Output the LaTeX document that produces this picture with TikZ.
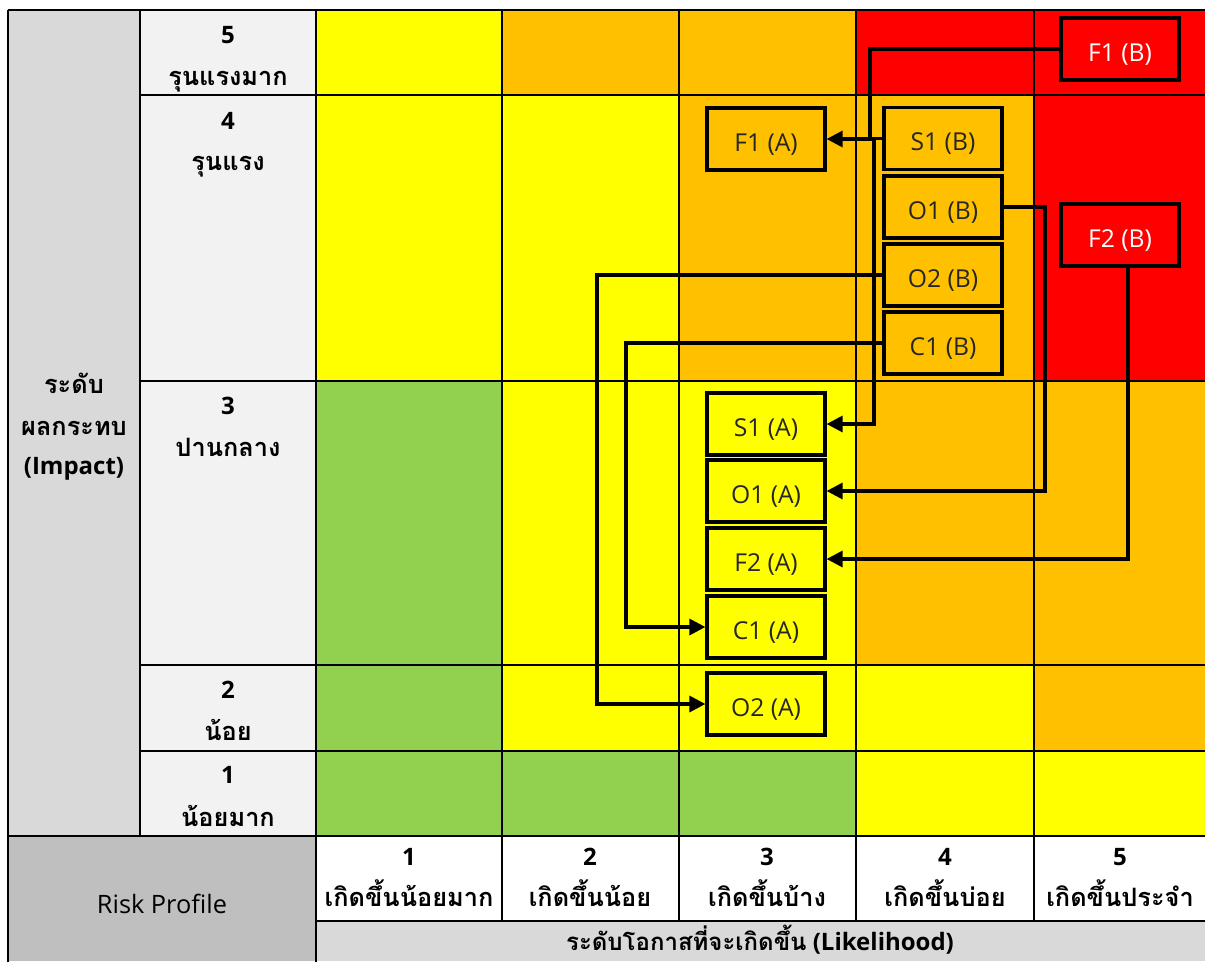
\documentclass[tikz,border=0pt]{standalone}
\usepackage{fontspec}
\setmainfont{Open Sans}
\newfontfamily\thaif[Script=Thai]{Loma}
\usetikzlibrary{arrows.meta}
\definecolor{ryel}{HTML}{FFFF00}
\definecolor{rora}{HTML}{FFC000}
\definecolor{rred}{HTML}{FF0000}
\definecolor{rgrn}{HTML}{92D050}
\definecolor{gA}{HTML}{D9D9D9}
\definecolor{gB}{HTML}{F2F2F2}
\definecolor{gC}{HTML}{BFBFBF}
\begin{document}
\begin{tikzpicture}[x=0.75pt,y=-0.75pt,
  gridl/.style={line width=1.6pt,draw=black},
  lab/.style={font=\fontsize{18}{22}\selectfont\bfseries,anchor=base,inner sep=0pt},
  thlab/.style={font=\fontsize{19}{22}\selectfont\thaif\bfseries,anchor=base,inner sep=0pt},
  plain/.style={font=\fontsize{19}{22}\selectfont,anchor=base,inner sep=0pt},
  riskbox/.style={draw=black,line width=2.4pt,minimum width=88.5pt,minimum height=46.5pt,inner sep=0pt,
    text height=18pt,text depth=0pt,font=\fontsize{18.5}{22}\selectfont,text=black!85},
  redbox/.style={riskbox,fill=rred,text=white},
  conn/.style={line width=2.4pt,draw=black},
  arr/.style={conn,-{Triangle[length=12pt,width=12pt]}}
]
\useasboundingbox (0,0) rectangle (1205,961);
% background cells
\fill[gA] (8,10) rectangle (140,836);
\fill[gB] (140,10) rectangle (316,836);
\fill[gC] (8,836) rectangle (316,961);
\fill[white] (316,836) rectangle (1205,921);
\fill[gA] (316,921) rectangle (1205,961);
\foreach \xa/\xb/\ya/\yb/\c in {
  316/502/10/95/ryel, 502/679/10/95/rora, 679/856/10/95/rora, 856/1034/10/95/rred, 1034/1205/10/95/rred,
  316/502/95/381/ryel, 502/679/95/381/ryel, 679/856/95/381/rora, 856/1034/95/381/rora, 1034/1205/95/381/rred,
  316/502/381/665/rgrn, 502/679/381/665/ryel, 679/856/381/665/ryel, 856/1034/381/665/rora, 1034/1205/381/665/rora,
  316/502/665/751/rgrn, 502/679/665/751/ryel, 679/856/665/751/ryel, 856/1034/665/751/ryel, 1034/1205/665/751/rora,
  316/502/751/836/rgrn, 502/679/751/836/rgrn, 679/856/751/836/rgrn, 856/1034/751/836/ryel, 1034/1205/751/836/ryel}
  {\fill[\c] (\xa,\ya) rectangle (\xb,\yb);}
% grid lines
\draw[gridl] (8,10) -- (1206,10);
\foreach \yy in {95,381,665,751} {\draw[gridl] (140,\yy) -- (1206,\yy);}
\draw[gridl] (8,836) -- (1206,836);
\draw[gridl] (316,921) -- (1206,921);
\draw[gridl] (8,10) -- (8,962);
\draw[gridl] (140,10) -- (140,836);
\draw[gridl] (316,10) -- (316,962);
\foreach \xx in {502,679,856,1034} {\draw[gridl] (\xx,10) -- (\xx,921);}
% left heading
\node[thlab] (imp1) at (74,393) {ระดับ};
\node[thlab] (imp2) at (74,435) {ผลกระทบ};
\node[lab] (imp3) at (74,474) {(Impact)};
% impact levels
\node[lab] (n5) at (228,43) {5};
\node[thlab] (t5) at (228,85) {รุนแรงมาก};
\node[lab] (n4) at (228,129) {4};
\node[thlab] (t4) at (228,170) {รุนแรง};
\node[lab] (n3) at (228,414) {3};
\node[thlab] (t3) at (228,456) {ปานกลาง};
\node[lab] (n2) at (228,698) {2};
\node[thlab] (t2) at (228,740) {น้อย};
\node[lab] (n1) at (228,783) {1};
\node[thlab] (t1) at (228,826) {น้อยมาก};
% bottom headings
\node[plain] (rp) at (162,913) {Risk Profile};
\node[lab] (h1) at (409,865) {1};
\node[thlab] (ht1) at (409,906) {เกิดขึ้นน้อยมาก};
\node[lab] (h2) at (590,865) {2};
\node[thlab] (ht2) at (590,906) {เกิดขึ้นน้อย};
\node[lab] (h3) at (767,865) {3};
\node[thlab] (ht3) at (767,906) {เกิดขึ้นบ้าง};
\node[lab] (h4) at (945,865) {4};
\node[thlab] (ht4) at (945,906) {เกิดขึ้นบ่อย};
\node[lab] (h5) at (1120,865) {5};
\node[thlab] (ht5) at (1120,906) {เกิดขึ้นประจำ};
\node[lab] (lik) at (760,950) {{\thaif ระดับโอกาสที่จะเกิดขึ้น} (Likelihood)};
% risk boxes
\node[redbox] (F1B) at (1120,49) {F1 (B)};
\node[redbox] (F2B) at (1120,235) {F2 (B)};
\node[riskbox,fill=rora] (S1B) at (943,138.5) {S1 (B)};
\node[riskbox,fill=rora] (O1B) at (943,207) {O1 (B)};
\node[riskbox,fill=rora] (O2B) at (943,275) {O2 (B)};
\node[riskbox,fill=rora] (C1B) at (943,343) {C1 (B)};
\node[riskbox,fill=rora] (F1A) at (766,139) {F1 (A)};
\node[riskbox,fill=ryel] (S1A) at (766,424) {S1 (A)};
\node[riskbox,fill=ryel] (O1A) at (766,491) {O1 (A)};
\node[riskbox,fill=ryel] (F2A) at (766,559) {F2 (A)};
\node[riskbox,fill=ryel] (C1A) at (766,627) {C1 (A)};
\node[riskbox,fill=ryel] (O2A) at (766,704) {O2 (A)};
% connector bends
\coordinate (kF1) at (870,0);
\coordinate (kS1) at (874,0);
\coordinate (kO1) at (1045,0);
\coordinate (kF2) at (1128,0);
\coordinate (kO2) at (597,0);
\coordinate (kC1) at (626,0);
% connectors
\draw[arr] (F1B.west) -- (F1B.west -| kF1) |- (F1A.east);
\draw[arr] (S1B.west) -- (S1B.west -| kS1) |- (S1A.east);
\draw[arr] (O1B.east) -- (O1B.east -| kO1) |- (O1A.east);
\draw[arr] (F2B.south -| kF2) |- (F2A.east);
\draw[arr] (O2B.west) -- (O2B.west -| kO2) |- (O2A.west);
\draw[arr] (C1B.west) -- (C1B.west -| kC1) |- (C1A.west);
\end{tikzpicture}
\end{document}
